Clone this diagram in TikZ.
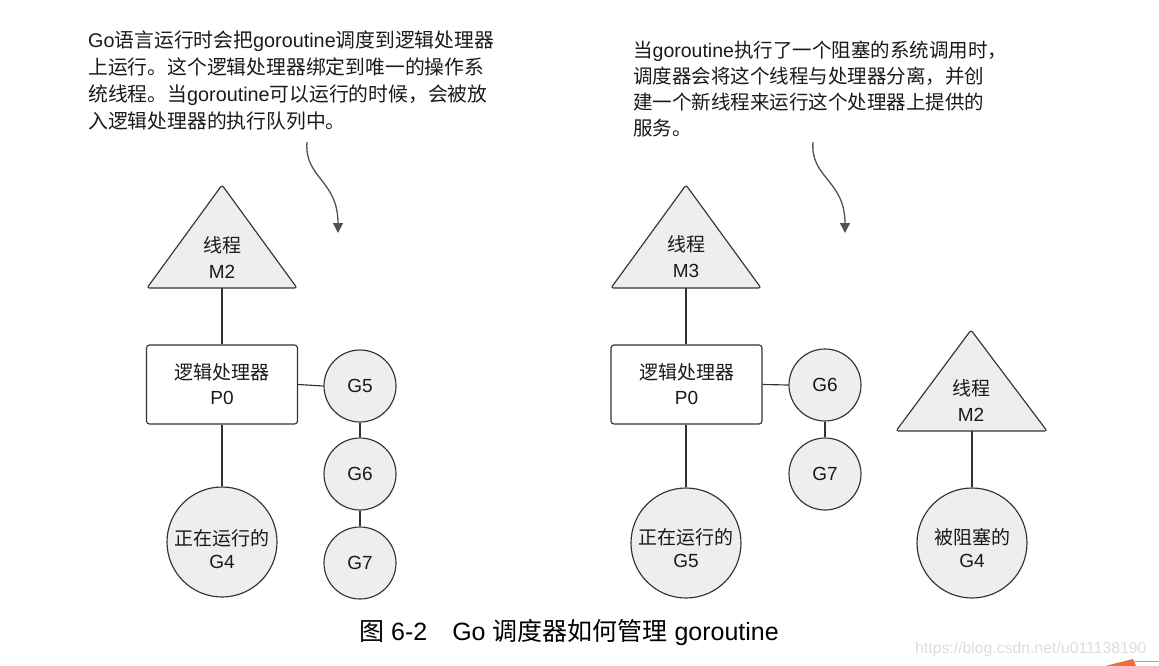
\documentclass[tikz,border=0pt]{standalone}
\usepackage{fontspec}
\setmainfont{Liberation Sans}
\newfontfamily\zh{Noto Sans CJK SC}
\usetikzlibrary{arrows.meta}

\definecolor{ink}{HTML}{333333}
\definecolor{shade}{HTML}{EEEEEE}
\definecolor{txt}{HTML}{1A1A1A}
\definecolor{mark}{HTML}{DDDDDD}
\definecolor{tab}{HTML}{F26B3A}

\begin{document}
\begin{tikzpicture}[
  x=1pt, y=-1pt,
  part/.style={draw=ink, line width=1.15pt, fill=shade},
  gnode/.style={part, circle, minimum size=72pt, inner sep=0pt, align=center,
    text=txt, font=\fontsize{19}{24}\selectfont},
  bignode/.style={part, circle, minimum size=110pt, inner sep=0pt},
  biglabel/.style={inner sep=0pt, align=center, text=txt,
    font=\fontsize{19}{23.5}\selectfont},
  procbox/.style={draw=ink, line width=1.15pt, fill=white, rounded corners=3pt,
    minimum width=151pt, minimum height=79pt, inner sep=0pt, align=center,
    text=txt, font=\fontsize{19}{25}\selectfont},
  threadtri/.style={part, rounded corners=2.5pt},
  trilabel/.style={inner sep=0pt, align=center, text=txt,
    font=\fontsize{19}{26}\selectfont},
  link/.style={draw=ink, line width=1.15pt},
  note/.style={anchor=north west, inner sep=0pt, align=left, text=txt,
    font=\fontsize{19.8}{27}\selectfont},
  pointer/.style={draw=ink!85, line width=1.3pt,
    -{Triangle[length=10pt,width=10pt]}},
]
\useasboundingbox (0,0) rectangle (1159,666);

% ---------- notes ----------
\node[note] (noteA) at (88,31)
  {Go{\zh 语言运行时会把}goroutine{\zh 调度到逻辑处理器}\\
   {\zh 上运行。这个逻辑处理器绑定到唯一的操作系}\\
   {\zh 统线程。当}goroutine{\zh 可以运行的时候，会被放}\\
   {\zh 入逻辑处理器的执行队列中。}};
\node[note, font=\fontsize{19.5}{26}\selectfont] (noteB) at (633,41)
  {{\zh 当}goroutine{\zh 执行了一个阻塞的系统调用时，}\\
   {\zh 调度器会将这个线程与处理器分离，并创}\\
   {\zh 建一个新线程来运行这个处理器上提供的}\\
   {\zh 服务。}};

\coordinate (pA0) at (307,142);
\coordinate (pA1) at (338,233);
\coordinate (pB0) at (813,142);
\coordinate (pB1) at (845,233);
\draw[pointer] (pA0) .. controls (304,178) and (338,180) .. (pA1);
\draw[pointer] (pB0) .. controls (810,178) and (845,180) .. (pB1);

% ---------- left: goroutines queued on P0 ----------
\draw[threadtri] (222,185) -- (297,288) -- (147,288) -- cycle;
\coordinate (triA) at (222,288);
\node[trilabel] (m2a) at (222,257) {{\zh 线程}\\M2};

\node[procbox] (p0a) at (222,384.5) {{\zh 逻辑处理器}\\P0};
\node[gnode] (g5a) at (360,386) {G5};
\node[gnode] (g6a) at (360,474) {G6};
\node[gnode] (g7a) at (360,563) {G7};
\node[bignode] (g4a) at (222,542) {};
\node[biglabel] (g4aText) at (222,549) {{\zh 正在运行的}\\G4};

\draw[link] (triA) -- (p0a.north);
\draw[link] (p0a.south) -- (g4a.north);
\draw[link] (p0a.east) -- (g5a.west);
\draw[link] (g5a.south) -- (g6a.north);
\draw[link] (g6a.south) -- (g7a.north);

% ---------- right: blocked M2 detached, M3 takes over ----------
\draw[threadtri] (686,185) -- (761,288) -- (611,288) -- cycle;
\coordinate (triB) at (686,288);
\node[trilabel] (m3b) at (686,257) {{\zh 线程}\\M3};

\node[procbox] (p0b) at (686.5,384.5) {{\zh 逻辑处理器}\\P0};
\node[gnode] (g6b) at (825,385) {G6};
\node[gnode] (g7b) at (825,474) {G7};
\node[bignode] (g5b) at (686,543) {};
\node[biglabel] (g5bText) at (686,548) {{\zh 正在运行的}\\G5};

\draw[link] (triB) -- (triB |- p0b.north);
\draw[link] (g5b.north |- p0b.south) -- (g5b.north);
\draw[link] (p0b.east) -- (g6b.west);
\draw[link] (g6b.south) -- (g7b.north);

\begin{scope}
  \clip (880,320) rectangle (1046.5,445);
  \draw[threadtri] (971,330) -- (1047,431) -- (896,431) -- cycle;
\end{scope}
\coordinate (triC) at (972,431);
\node[trilabel] (m2c) at (971,400) {{\zh 线程}\\M2};
\node[bignode] (g4c) at (972,543) {};
\node[biglabel] (g4cText) at (972,548) {{\zh 被阻塞的}\\G4};
\draw[link] (triC) -- (g4c.north);

% ---------- caption and footer ----------
\node[anchor=base west, inner sep=0pt, text=black,
  font=\fontsize{25}{28}\selectfont] (cap) at (359,640)
  {{\zh 图} 6-2\hspace{25pt}Go {\zh 调度器如何管理} goroutine};
\node[anchor=base west, inner sep=0pt, text=mark,
  font=\fontsize{15.8}{18}\selectfont] (url) at (915,653)
  {https://blog.csdn.net/u011138190};
\fill[tab] (1105,666) -- (1133,659) -- (1136,666) -- cycle;
\draw[gray!70, line width=0.8pt] (1133,661) -- (1159,661);
\end{tikzpicture}
\end{document}
